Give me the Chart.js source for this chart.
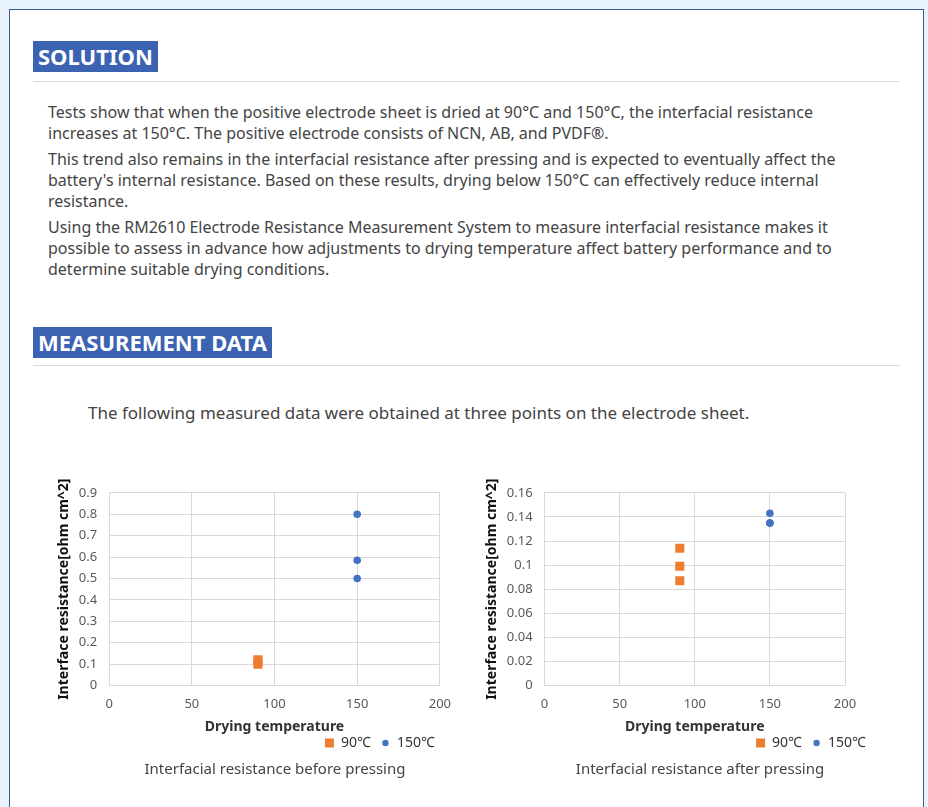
<!DOCTYPE html>
<html>
<head>
<meta charset="utf-8">
<script src="https://cdn.jsdelivr.net/npm/chart.js@4.4.1/dist/chart.umd.min.js"></script>
<style>
    body {
        margin: 0;
        background: #e9f3fb;
        font-family: "Noto Sans", sans-serif;
        width: 928px;
        height: 807px;
        overflow: hidden;
        position: relative;
    }
    .panel {
        position: absolute;
        left: 9px;
        top: 9px;
        width: 913px;
        height: 820px;
        background: #fff;
        border: 1px solid #3d5a99;
    }
    .head {
        position: absolute;
        left: 33px;
        height: 31px;
        line-height: 31px;
        padding: 0 5px;
        background: #3c62b2;
        color: #fff;
        font-weight: bold;
        font-size: 22px;
    }
    .rule {
        position: absolute;
        left: 33px;
        width: 867px;
        height: 1px;
        background: #dcdcdc;
    }
    .txt {
        position: absolute;
        left: 48px;
        color: #444;
        font-size: 16px;
        line-height: 21px;
    }
    .txt p { margin: 0 0 5px 0; }
    .lead {
        position: absolute;
        left: 88px;
        top: 401px;
        color: #444;
        font-size: 17px;
    }
    .box { position: absolute; }
    .cap {
        position: absolute;
        top: 758px;
        color: #444;
        font-size: 15px;
        text-align: center;
        width: 400px;
    }
</style>
</head>
<body>
<div class="panel"></div>
<div class="head" style="top:41px">SOLUTION</div>
<div class="rule" style="top:81px"></div>
<div class="txt" style="top:102px">
    <p>Tests show that when the positive electrode sheet is dried at 90°C and 150°C, the interfacial resistance<br>increases at 150°C. The positive electrode consists of NCN, AB, and PVDF®.</p>
    <p>This trend also remains in the interfacial resistance after pressing and is expected to eventually affect the<br>battery's internal resistance. Based on these results, drying below 150°C can effectively reduce internal<br>resistance.</p>
    <p>Using the RM2610 Electrode Resistance Measurement System to measure interfacial resistance makes it<br>possible to assess in advance how adjustments to drying temperature affect battery performance and to<br>determine suitable drying conditions.</p>
</div>
<div class="head" style="top:327px">MEASUREMENT DATA</div>
<div class="rule" style="top:365px"></div>
<div class="lead">The following measured data were obtained at three points on the electrode sheet.</div>

<div class="box" style="left:56px;top:473px;width:397px;height:287px"><canvas id="beforeChart"></canvas></div>
<div class="box" style="left:484px;top:473px;width:386px;height:287px"><canvas id="afterChart"></canvas></div>
<div class="cap" style="left:75px">Interfacial resistance before pressing</div>
<div class="cap" style="left:500px">Interfacial resistance after pressing</div>

<script>
// temperatures of the two series
const temp90 = [90, 90, 90];
const temp150 = [150, 150, 150];

// before pressing [ohm cm^2]
const before90 = [0.10, 0.11, 0.12];
const before150 = [0.80, 0.585, 0.50];

// after pressing [ohm cm^2]
const after90 = [0.114, 0.099, 0.087];
const after150 = [0.143, 0.135, 0.135];

const xTicks = [0, 50, 100, 150, 200];
const seriesLabels = ['90℃', '150℃'];

const orange = '#ed7d31';
const blue = '#4472c4';

// small dot for the legend, the excel legend uses a smaller circle
const legendDot = document.createElement('canvas');
legendDot.width = 8;
legendDot.height = 8;
const dctx = legendDot.getContext('2d');
dctx.fillStyle = blue;
dctx.beginPath();
dctx.arc(4, 4, 3.2, 0, Math.PI * 2);
dctx.fill();

function points(xs, ys) {
    return xs.map((x, i) => ({ x: x, y: ys[i] }));
}

function makeChart(id, ys90, ys150, yMax, yStep, legendShift, padRight) {
    const ctx = document.getElementById(id).getContext('2d');
    return new Chart(ctx, {
        type: 'scatter',
        data: {
            datasets: [
                {
                    label: seriesLabels[0],
                    data: points(temp90, ys90),
                    pointStyle: 'rect',
                    pointRadius: 6.4,
                    pointHoverRadius: 6.4,
                    backgroundColor: orange,
                    borderColor: orange,
                    borderWidth: 0
                },
                {
                    label: seriesLabels[1],
                    data: points(temp150, ys150),
                    pointStyle: 'circle',
                    pointRadius: 3.8,
                    pointHoverRadius: 3.8,
                    backgroundColor: blue,
                    borderColor: blue,
                    borderWidth: 0
                }
            ]
        },
        options: {
            responsive: true,
            maintainAspectRatio: false,
            animation: false,
            layout: { padding: { right: padRight } },
            plugins: {
                tooltip: { enabled: false },
                legend: {
                    position: 'bottom',
                    align: 'end',
                    fullSize: false,
                    labels: {
                        usePointStyle: true,
                        boxWidth: 9,
                        boxHeight: 9,
                        padding: 10,
                        color: '#333',
                        font: { family: 'Noto Sans', size: 14 },
                        generateLabels: chart => {
                            const items = Chart.defaults.plugins.legend.labels.generateLabels(chart);
                            items[1].pointStyle = legendDot;
                            return items;
                        }
                    }
                }
            },
            scales: {
                x: {
                    type: 'linear',
                    min: 0,
                    max: 200,
                    afterBuildTicks: axis => {
                        axis.ticks = xTicks.map(v => ({ value: v }));
                    },
                    grid: { color: '#d9d9d9', tickLength: 9, tickColor: 'transparent' },
                    border: { color: '#d9d9d9' },
                    ticks: {
                        padding: 2,
                        color: '#595959',
                        font: { family: 'Noto Sans', size: 13 }
                    },
                    title: {
                        display: true,
                        text: 'Drying temperature',
                        color: '#333',
                        padding: { top: 4, bottom: -9 },
                        font: { family: 'Noto Sans', size: 14, weight: 'bold' }
                    }
                },
                y: {
                    min: 0,
                    max: yMax,
                    grid: { color: '#d9d9d9', drawTicks: false },
                    border: { color: '#d9d9d9' },
                    ticks: {
                        stepSize: yStep,
                        padding: 12,
                        color: '#595959',
                        font: { family: 'Noto Sans', size: 13 },
                        callback: v => String(+v.toFixed(2))
                    },
                    title: {
                        display: true,
                        text: 'Interface resistance[ohm cm^2]',
                        color: '#111',
                        padding: { top: 0, bottom: -6 },
                        font: { family: 'Noto Sans', size: 14, weight: 'bold' }
                    }
                }
            }
        },
        plugins: [{
            // the legend sits a bit right of the plot edge in the original
            id: 'legendShift',
            afterLayout: chart => {
                chart.legend.left += legendShift;
                chart.legend.right += legendShift;
            }
        }]
    });
}

makeChart('beforeChart', before90, before150, 0.9, 0.1, 5, 0);
makeChart('afterChart', after90, after150, 0.16, 0.02, 31, 25);
</script>
</body>
</html>
